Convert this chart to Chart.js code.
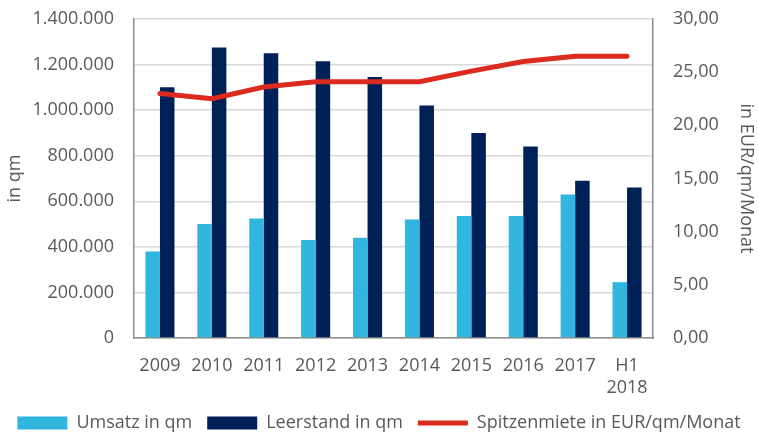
<!DOCTYPE html>
<html>
<head>
<meta charset="utf-8">
<script src="https://cdn.jsdelivr.net/npm/chart.js@4.4.1/dist/chart.umd.min.js"></script>
<style>
  html, body { margin: 0; padding: 0; background: #ffffff; }
  #wrap { width: 758px; height: 433px; }
</style>
</head>
<body>
<div id="wrap"><canvas id="chart" width="758" height="433"></canvas></div>
<script>
    // data
    const categories = ['2009', '2010', '2011', '2012', '2013', '2014', '2015', '2016', '2017', ['H1', '2018']];
    const umsatz = [380000, 500000, 525000, 430000, 440000, 520000, 535000, 535000, 630000, 245000];
    const leerstand = [1100000, 1275000, 1250000, 1215000, 1145000, 1020000, 900000, 840000, 690000, 660000];
    const spitzenmiete = [23.0, 22.5, 23.6, 24.1, 24.1, 24.1, 25.1, 26.0, 26.5, 26.5];
    const leftTicks = [0, 200000, 400000, 600000, 800000, 1000000, 1200000, 1400000];
    const rightTicks = [0, 5, 10, 15, 20, 25, 30];

    const grey = '#595959';
    const axisGrey = '#8c8c8c';
    const fontFamily = "'Open Sans', 'Noto Sans', sans-serif";

    function thousands(v) {
        return String(Math.round(v)).replace(/\B(?=(\d{3})+(?!\d))/g, '.');
    }

    // fixed box sizes so the plot area lands where the reference has it
    function fixWidth(w) {
        return (scale) => { scale.width = w; scale.paddingTop = 0; scale.paddingBottom = 0; };
    }

    let ctx = document.getElementById('chart').getContext('2d');
    let chart = new Chart(ctx, {
        type: 'bar',
        data: {
            labels: categories,
            datasets: [
                { label: 'Umsatz in qm', data: umsatz, backgroundColor: '#31b6df', yAxisID: 'y', order: 1,
                  categoryPercentage: 0.56, barPercentage: 1.0, pointStyle: 'rect' },
                { label: 'Leerstand in qm', data: leerstand, backgroundColor: '#002158', yAxisID: 'y', order: 1,
                  categoryPercentage: 0.56, barPercentage: 1.0, pointStyle: 'rect' },
                { type: 'line', label: 'Spitzenmiete in EUR/qm/Monat', data: spitzenmiete, yAxisID: 'y1', order: 0,
                  borderColor: '#db2a1e', backgroundColor: '#db2a1e', borderWidth: 5, pointRadius: 0,
                  tension: 0, pointStyle: 'line', borderCapStyle: 'round' }
            ]
        },
        options: {
            responsive: false,
            animation: false,
            layout: { padding: { top: 19, right: 0, bottom: -9, left: 0 } },
            plugins: {
                tooltip: { enabled: false },
                legend: {
                    position: 'bottom',
                    labels: {
                        color: grey,
                        font: { family: fontFamily, size: 18 },
                        usePointStyle: true,
                        pointStyleWidth: 50,
                        boxHeight: 13,
                        padding: 15,
                        sort: (a, b) => a.datasetIndex - b.datasetIndex
                    }
                }
            },
            scales: {
                x: {
                    grid: { display: false, drawTicks: false },
                    border: { color: axisGrey, width: 1.5 },
                    ticks: { color: grey, font: { family: fontFamily, size: 18 }, padding: 17, maxRotation: 0 },
                    afterFit: (scale) => { scale.height = 61; scale.paddingLeft = 0; scale.paddingRight = 0; }
                },
                y: {
                    position: 'left',
                    min: 0, max: 1400000,
                    afterBuildTicks: (scale) => { scale.ticks = leftTicks.map(v => ({ value: v })); },
                    grid: { color: '#d9d9d9', lineWidth: 1.5, drawTicks: false },
                    border: { color: axisGrey, width: 1.5 },
                    ticks: { color: grey, font: { family: fontFamily, size: 18 }, padding: 20,
                             callback: (v) => thousands(v) },
                    title: { display: true, text: 'in qm', color: grey, font: { family: fontFamily, size: 18 },
                             padding: { top: 4, bottom: 4 } },
                    afterFit: fixWidth(134)
                },
                y1: {
                    position: 'right',
                    min: 0, max: 30,
                    afterBuildTicks: (scale) => { scale.ticks = rightTicks.map(v => ({ value: v })); },
                    grid: { display: false, drawTicks: false },
                    border: { color: axisGrey, width: 1.5 },
                    ticks: { color: grey, font: { family: fontFamily, size: 18 }, padding: 20,
                             callback: (v) => v.toFixed(2).replace('.', ',') },
                    title: { display: true, text: 'in EUR/qm/Monat', color: grey, font: { family: fontFamily, size: 18 },
                             padding: { top: 1, bottom: 4 } },
                    afterFit: fixWidth(105)
                }
            }
        }
    });
</script>
</body>
</html>
